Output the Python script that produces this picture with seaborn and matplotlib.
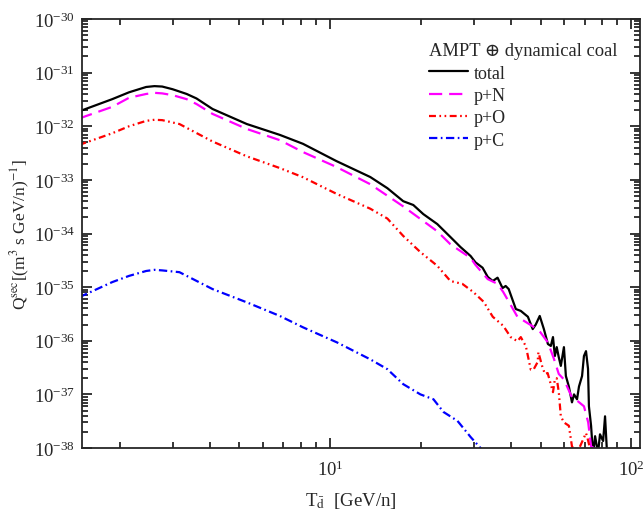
import matplotlib
matplotlib.use("Agg")
import matplotlib.pyplot as plt
from matplotlib.ticker import LogLocator, NullFormatter
import seaborn as sns
import pandas as pd

# ---------------------------------------------------------------
# Data (T in GeV/n, Q in (m^3 s GeV/n)^-1)
# ---------------------------------------------------------------
x_total = [1.47, 1.89, 2.15, 2.45, 2.61, 2.77, 3.0, 3.34, 3.6, 4.07, 5.29,
           6.81, 8.13, 10.5, 13.6, 15.5, 17.5, 18.9, 20.4, 22.7, 25.1, 27.1,
           29.3, 30.4, 32.1, 33.4, 34.7, 36.0, 37.4, 38.3, 39.2, 41.4, 43.0,
           45.4, 47.1, 48.2, 49.7, 51.3, 52.9, 54.1, 55.0, 55.8, 56.6, 57.5,
           58.4, 59.8, 60.7, 62.1, 63.6, 64.6, 66.1, 67.1, 68.7, 69.7, 70.8,
           71.9, 72.4, 73.6, 74.7, 75.9, 77.6, 78.8, 80.7, 81.9, 83.2]
y_total = [1.9e-32, 3.2e-32, 4.3e-32, 5.4e-32, 5.6e-32, 5.5e-32, 4.9e-32,
           4.0e-32, 3.3e-32, 2.1e-32, 1.1e-32, 6.9e-33, 4.7e-33, 2.24e-33,
           1.13e-33, 7.0e-34, 4.0e-34, 3.4e-34, 2.3e-34, 1.5e-34, 8.6e-35,
           5.6e-35, 3.8e-35, 2.9e-35, 2.3e-35, 1.55e-35, 1.3e-35, 1.5e-35,
           9.6e-36, 1.05e-35, 9.2e-36, 3.9e-36, 3.6e-36, 2.8e-36, 1.65e-36,
           2.0e-36, 2.9e-36, 1.65e-36, 8.7e-37, 8.0e-37, 1.17e-36, 5.2e-37,
           7.6e-37, 4.9e-37, 3.4e-37, 7.6e-37, 2.2e-37, 1.4e-37, 7.1e-38,
           1.0e-37, 8.1e-38, 1.4e-37, 2.2e-37, 5.2e-37, 6.4e-37, 3.0e-37,
           6.0e-38, 2.6e-38, 7.6e-39, 1.66e-38, 8.0e-39, 1.8e-38, 1.35e-38,
           3.9e-38, 7.6e-39]

x_pN = [1.47, 1.89, 2.15, 2.45, 2.61, 2.77, 3.0, 3.34, 3.6, 4.07, 5.29, 6.81,
        8.13, 10.5, 13.6, 17.5, 22.7, 25.1, 29.3, 30.4, 33.4, 36.0, 37.6,
        41.9, 47.1, 49.9, 52.9, 55.4, 57.5, 59.8, 63.3, 66.6, 69.7, 72.0,
        73.6, 77.6]
y_pN = [1.4e-32, 2.3e-32, 3.4e-32, 4.0e-32, 4.2e-32, 4.1e-32, 3.8e-32,
        3.2e-32, 2.6e-32, 1.7e-32, 8.9e-33, 5.5e-33, 3.3e-33, 1.74e-33,
        8.3e-34, 3.2e-34, 1.1e-34, 6.3e-35, 3.5e-35, 2.6e-35, 1.41e-35,
        1.15e-35, 8.1e-36, 2.8e-36, 1.86e-36, 1.45e-36, 9.3e-37, 4.6e-37,
        2.4e-37, 1.9e-37, 9.3e-38, 7.4e-38, 6.0e-38, 3.0e-38, 1.07e-38,
        9.0e-39]

x_pO = [1.47, 1.89, 2.15, 2.45, 2.61, 2.77, 3.16, 4.07, 5.29, 6.81, 8.13,
        10.5, 13.6, 15.5, 17.5, 19.95, 22.7, 25.1, 27.5, 29.9, 32.4, 34.7,
        37.6, 39.8, 41.9, 43.0, 44.7, 46.4, 47.4, 48.9, 49.2, 50.6, 51.7,
        52.8, 55.0, 55.8, 56.6, 57.5, 58.4, 59.8, 62.1, 63.6, 66.1, 70.8,
        71.9, 73.6]
y_pO = [4.5e-33, 7.4e-33, 1.0e-32, 1.26e-32, 1.32e-32, 1.3e-32, 1.1e-32,
        5.2e-33, 2.75e-33, 1.66e-33, 1.12e-33, 5.5e-34, 2.9e-34, 1.9e-34,
        9.0e-35, 4.5e-35, 2.5e-35, 1.3e-35, 1.15e-35, 8.1e-36, 5.3e-36,
        2.8e-36, 1.9e-36, 1.17e-36, 9.8e-37, 1.17e-36, 7.9e-37, 2.9e-37,
        2.9e-37, 4.0e-37, 6.1e-37, 3.4e-37, 2.4e-37, 2.5e-37, 1.1e-37,
        1.9e-37, 2.0e-37, 1.1e-37, 3.9e-38, 3.0e-38, 2.6e-38, 1.07e-38,
        8.0e-39, 1.9e-38, 1.4e-38, 8.0e-39]

x_pC = [1.47, 1.89, 2.15, 2.45, 2.61, 2.77, 3.16, 4.07, 5.29, 6.81, 8.13,
        10.55, 13.6, 15.5, 17.5, 19.95, 22.05, 23.8, 26.5, 29.3, 31.6, 33.0]
y_pC = [6.5e-36, 1.24e-35, 1.62e-35, 2.0e-35, 2.1e-35, 2.05e-35, 1.9e-35,
        9.2e-36, 5.2e-36, 2.9e-36, 1.78e-36, 9.3e-37, 4.5e-37, 2.95e-37,
        1.55e-37, 1.0e-37, 8.1e-38, 4.7e-38, 3.2e-38, 1.6e-38, 1.0e-38,
        7.0e-39]

x_major = [10, 100]
y_major = [1e-38, 1e-37, 1e-36, 1e-35, 1e-34, 1e-33, 1e-32, 1e-31, 1e-30]

series = [
    ("total", x_total, y_total, "black", "-"),
    ("p+N", x_pN, y_pN, "#ff00ff", (0, (9.5, 5))),
    ("p+O", x_pO, y_pO, "red", (0, (5, 2.5, 1.2, 2.5, 1.2, 2.5))),
    ("p+C", x_pC, y_pC, "blue", (0, (6, 2.5, 1.2, 2.5))),
]

# =====================================================
# Style
# =====================================================
sns.set_style("ticks")
plt.rcParams["font.family"] = ["Liberation Serif", "DejaVu Serif"]
plt.rcParams["mathtext.fontset"] = "stix"
plt.rcParams["lines.scale_dashes"] = False
plt.rcParams["axes.linewidth"] = 1.3

fig = plt.figure(figsize=(6.44, 5.1), dpi=100)
ax = fig.add_axes([82 / 644, 61 / 510, 558 / 644, 429 / 510])

for name, xs, ys, color, ls in series:
    df = pd.DataFrame({"T": xs, "Q": ys})
    sns.lineplot(
        data=df, x="T", y="Q", ax=ax, color=color, linestyle=ls,
        linewidth=1.6, estimator=None, sort=False, label=name
    )

ax.set_xscale("log")
ax.set_yscale("log")
ax.set_xticks(x_major)
ax.set_yticks(y_major)
ax.yaxis.set_minor_locator(LogLocator(base=10, subs=range(2, 10), numticks=20))
ax.yaxis.set_minor_formatter(NullFormatter())
ax.xaxis.set_minor_formatter(NullFormatter())
ax.set_xlim(1.5, 107)
ax.set_ylim(1e-38, 1e-30)

ax.tick_params(which="both", direction="in", top=True, right=True,
               labelsize=13.5, width=1.1, color="black")
ax.tick_params(which="major", length=7)
ax.tick_params(which="minor", length=4)
ax.tick_params(axis="x", which="both", pad=8)
ax.tick_params(axis="y", which="both", pad=5)

ax.set_xlabel(r"T$_{\bar{\mathrm{d}}}$  [GeV/n]", fontsize=13.5)
ax.xaxis.set_label_coords(0.482, -0.097)
ax.set_ylabel(r"Q$^{\mathrm{sec}}$[(m$^{3}$ s GeV/n)$^{-1}$]", fontsize=12.5)
ax.yaxis.set_label_coords(-0.09, 0.5)

leg = ax.legend(
    title="AMPT \u2295 dynamical coal", loc="upper right",
    bbox_to_anchor=(0.972, 0.963), frameon=False, fontsize=13,
    title_fontsize=13.3, handlelength=2.2, handletextpad=0.3,
    labelspacing=0.3, borderaxespad=0.0
)
leg._legend_box.align = "left"

plt.savefig("out.png", dpi=100)
plt.close()
